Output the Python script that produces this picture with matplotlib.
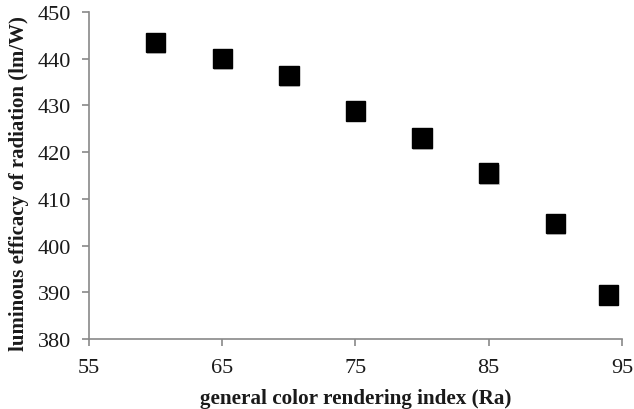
import matplotlib
matplotlib.use("Agg")
import matplotlib.pyplot as plt
import matplotlib.patheffects as pe

ra = [60, 65, 70, 75, 80, 85, 90, 94]
efficacy = [443.5, 440.1, 436.4, 428.8, 423.0, 415.5, 404.7, 389.4]
x_ticks = [55, 65, 75, 85, 95]
y_ticks = [380, 390, 400, 410, 420, 430, 440, 450]

plt.rcParams['font.family'] = ['Liberation Serif', 'DejaVu Serif']
fig = plt.figure(figsize=(6.34, 4.10), dpi=100)
ax = fig.add_axes([0.1404, 0.1707, 0.8406, 0.7976])
ax.plot(ra, efficacy, linestyle='none', marker='s', markersize=14,
        color='black', clip_on=False,
        path_effects=[pe.SimplePatchShadow(offset=(0.8, -1.2), shadow_rgbFace='#999999', alpha=0.5),
                      pe.Normal()])
ax.set_xlim(55, 95)
ax.set_ylim(380, 450)
ax.set_xticks(x_ticks)
ax.set_yticks(y_ticks)
for s in ['top', 'right']:
    ax.spines[s].set_visible(False)
for s in ['left', 'bottom']:
    ax.spines[s].set_color('#898989')
    ax.spines[s].set_linewidth(1.2)
ax.tick_params(direction='out', length=5, width=1.2, color='#898989',
               labelsize=16, labelcolor='#1a1a1a')
ax.tick_params(axis='x', pad=9)
ax.tick_params(axis='y', pad=8)
ax.set_xlabel('general color rendering index (Ra)', fontsize=15.2,
              fontweight='bold', color='#1a1a1a', va='baseline')
ax.xaxis.set_label_coords(0.5, -0.196)
ax.set_ylabel('luminous efficacy of radiation (lm/W)', fontsize=15.0,
              fontweight='bold', color='#1a1a1a')
ax.yaxis.set_label_coords(-0.112, 0.477)
fig.savefig('out.png', dpi=100)
